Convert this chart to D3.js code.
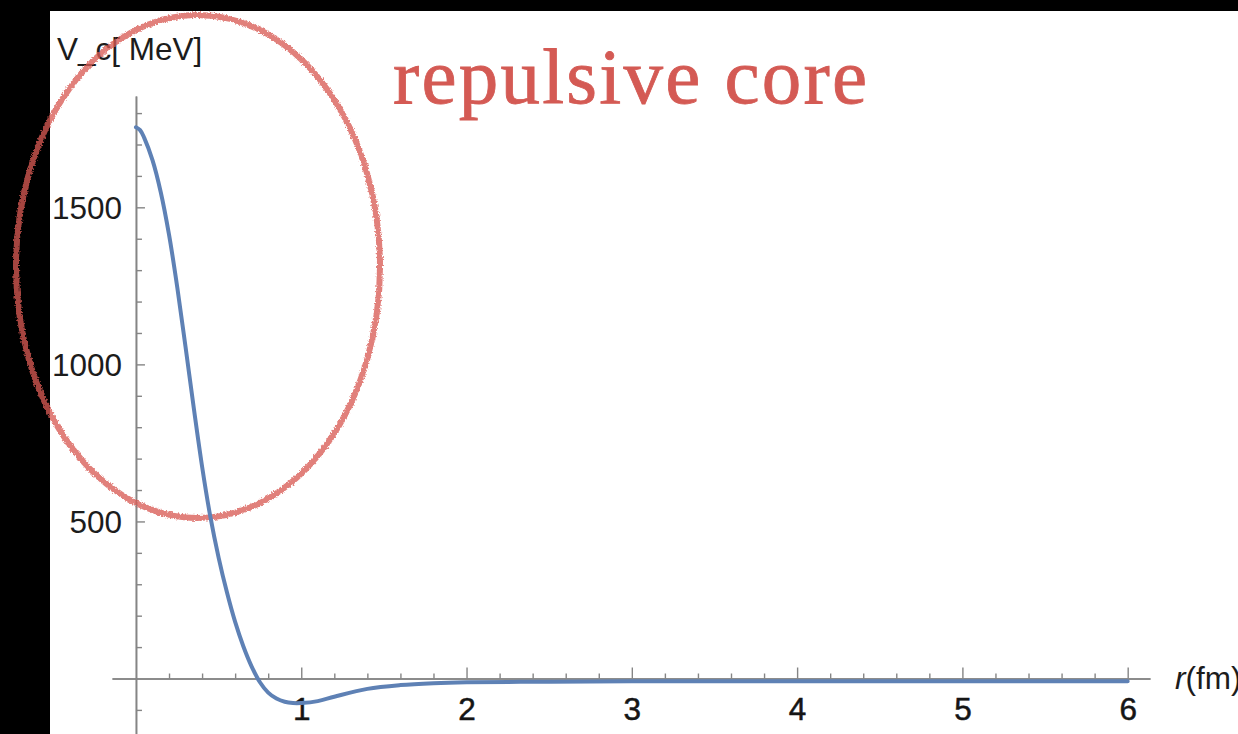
<!DOCTYPE html>
<html>
<head>
<meta charset="utf-8">
<script src="https://cdn.jsdelivr.net/npm/d3@7"></script>
<style>
  html, body { margin: 0; padding: 0; background: #000; }
  svg { display: block; }
</style>
</head>
<body>
<svg id="chart" width="1238" height="734"></svg>
<script>
// Central potential V_c(r) of the nucleon-nucleon interaction
const radius = [0, 0.025, 0.05, 0.1, 0.15, 0.2, 0.25, 0.3, 0.35, 0.4, 0.45, 0.5, 0.55, 0.6, 0.65,
                0.7, 0.75, 0.8, 0.85, 0.9, 0.95, 1.0, 1.1, 1.2, 1.4, 1.6, 1.8, 2.0, 2.5,
                3.0, 3.5, 4.0, 4.5, 5.0, 5.5, 6.0];
const potential = [1755, 1746, 1721, 1650, 1548, 1413, 1245, 1055, 860, 675, 515, 385, 275, 180, 102,
                   38, -12, -45, -64, -74, -78, -78, -72, -58, -33, -21, -15, -12, -10,
                   -9, -9, -9, -9, -9, -9, -9];

const xMajorTicks = [1, 2, 3, 4, 5, 6];
const yMajorTicks = [500, 1000, 1500];
const yTitle = "V_c[ MeV]";
const xTitleVar = "r";
const xTitleUnit = "(fm)";
const note = "repulsive core";

const svg = d3.select("#chart");
const W = 1238, H = 734;

// black surround, white plotting sheet
svg.append("rect").attr("width", W).attr("height", H).attr("fill", "#000");
svg.append("rect").attr("x", 50).attr("y", 11).attr("width", W - 50).attr("height", H - 11).attr("fill", "#fff");

// axes run slightly past the data on each side
const x = d3.scaleLinear().domain([-0.145, 6.135]).range([112, 1150]);
const y = d3.scaleLinear().domain([-176.7, 1854.4]).range([734, 96]);

const axisColor = "#858585";
const font = "'Liberation Sans', Arial, Helvetica, sans-serif";

const xMinor = d3.range(1, 31).map(i => i / 5).filter(v => Math.abs(v - Math.round(v)) > 1e-6);
const yMinor = d3.range(-1, 19).map(i => i * 100).filter(v => v !== 0 && !yMajorTicks.includes(v));

// x axis: ticks point up, labels below
const gx = svg.append("g").attr("transform", `translate(0,${y(0)})`);
gx.call(d3.axisBottom(x).tickValues(xMinor).tickSize(-5).tickSizeOuter(0).tickFormat(""));
const gxMajor = svg.append("g").attr("transform", `translate(0,${y(0)})`)
  .call(d3.axisBottom(x).tickValues(xMajorTicks).tickSize(-11).tickSizeOuter(0).tickPadding(19).tickFormat(d3.format("d")));

// y axis: ticks point right, labels left
const gy = svg.append("g").attr("transform", `translate(${x(0)},0)`);
gy.call(d3.axisLeft(y).tickValues(yMinor).tickSize(-6).tickSizeOuter(0).tickFormat(""));
const gyMajor = svg.append("g").attr("transform", `translate(${x(0)},0)`)
  .call(d3.axisLeft(y).tickValues(yMajorTicks).tickSize(-9).tickSizeOuter(0).tickPadding(14).tickFormat(d3.format("d")));

svg.selectAll(".domain").attr("stroke", axisColor).attr("stroke-width", 1.6);
svg.selectAll(".tick line").attr("stroke", axisColor).attr("stroke-width", 1.4);
svg.selectAll(".tick text")
  .attr("font-family", font).attr("font-size", 31.5).attr("fill", "#1c1c1c");
gxMajor.selectAll(".tick text").attr("dy", "0.71em").attr("fill", "#151515")
  .attr("stroke", "#151515").attr("stroke-width", 0.5);
gyMajor.selectAll(".tick text").attr("dy", "0.36em");

// axis titles
svg.append("text")
  .attr("x", 57).attr("y", 60)
  .attr("font-family", font).attr("font-size", 31.5).attr("fill", "#1c1c1c")
  .text(yTitle);

const xt = svg.append("text")
  .attr("x", 1175).attr("y", 689)
  .attr("font-family", font).attr("font-size", 31.5).attr("fill", "#1c1c1c");
xt.append("tspan").attr("font-style", "italic").text(xTitleVar);
xt.append("tspan").text(xTitleUnit);

// hand-drawn style ring around the core region
const defs = svg.append("defs");
const rough = defs.append("filter").attr("id", "rough")
  .attr("x", "-10%").attr("y", "-10%").attr("width", "120%").attr("height", "120%");
rough.append("feTurbulence").attr("type", "fractalNoise").attr("baseFrequency", 0.6)
  .attr("numOctaves", 2).attr("seed", 3).attr("result", "noise");
rough.append("feDisplacementMap").attr("in", "SourceGraphic").attr("in2", "noise")
  .attr("scale", 4).attr("xChannelSelector", "R").attr("yChannelSelector", "G");

const noteColor = "rgb(216,90,83)";
svg.append("ellipse")
  .attr("cx", 198).attr("cy", 266.5).attr("rx", 182).attr("ry", 251.5)
  .attr("fill", "none").attr("stroke", noteColor).attr("stroke-opacity", 0.77)
  .attr("stroke-width", 6).attr("filter", "url(#rough)");

// the potential curve
const line = d3.line()
  .x((d, i) => x(radius[i]))
  .y(d => y(d))
  .curve(d3.curveCatmullRom.alpha(0.5));
svg.append("path")
  .datum(potential)
  .attr("d", line)
  .attr("fill", "none")
  .attr("stroke", "#5E81B5")
  .attr("stroke-width", 4)
  .attr("stroke-linecap", "round")
  .attr("stroke-linejoin", "round");

// annotation text
svg.append("text")
  .attr("x", 393).attr("y", 103)
  .attr("font-family", "'Liberation Serif', 'Times New Roman', serif")
  .attr("font-size", 79)
  .attr("fill", "rgb(212,90,84)")
  .attr("stroke", "rgb(212,90,84)")
  .attr("stroke-width", 0.8)
  .attr("textLength", 474)
  .attr("lengthAdjust", "spacing")
  .text(note);
</script>
</body>
</html>
